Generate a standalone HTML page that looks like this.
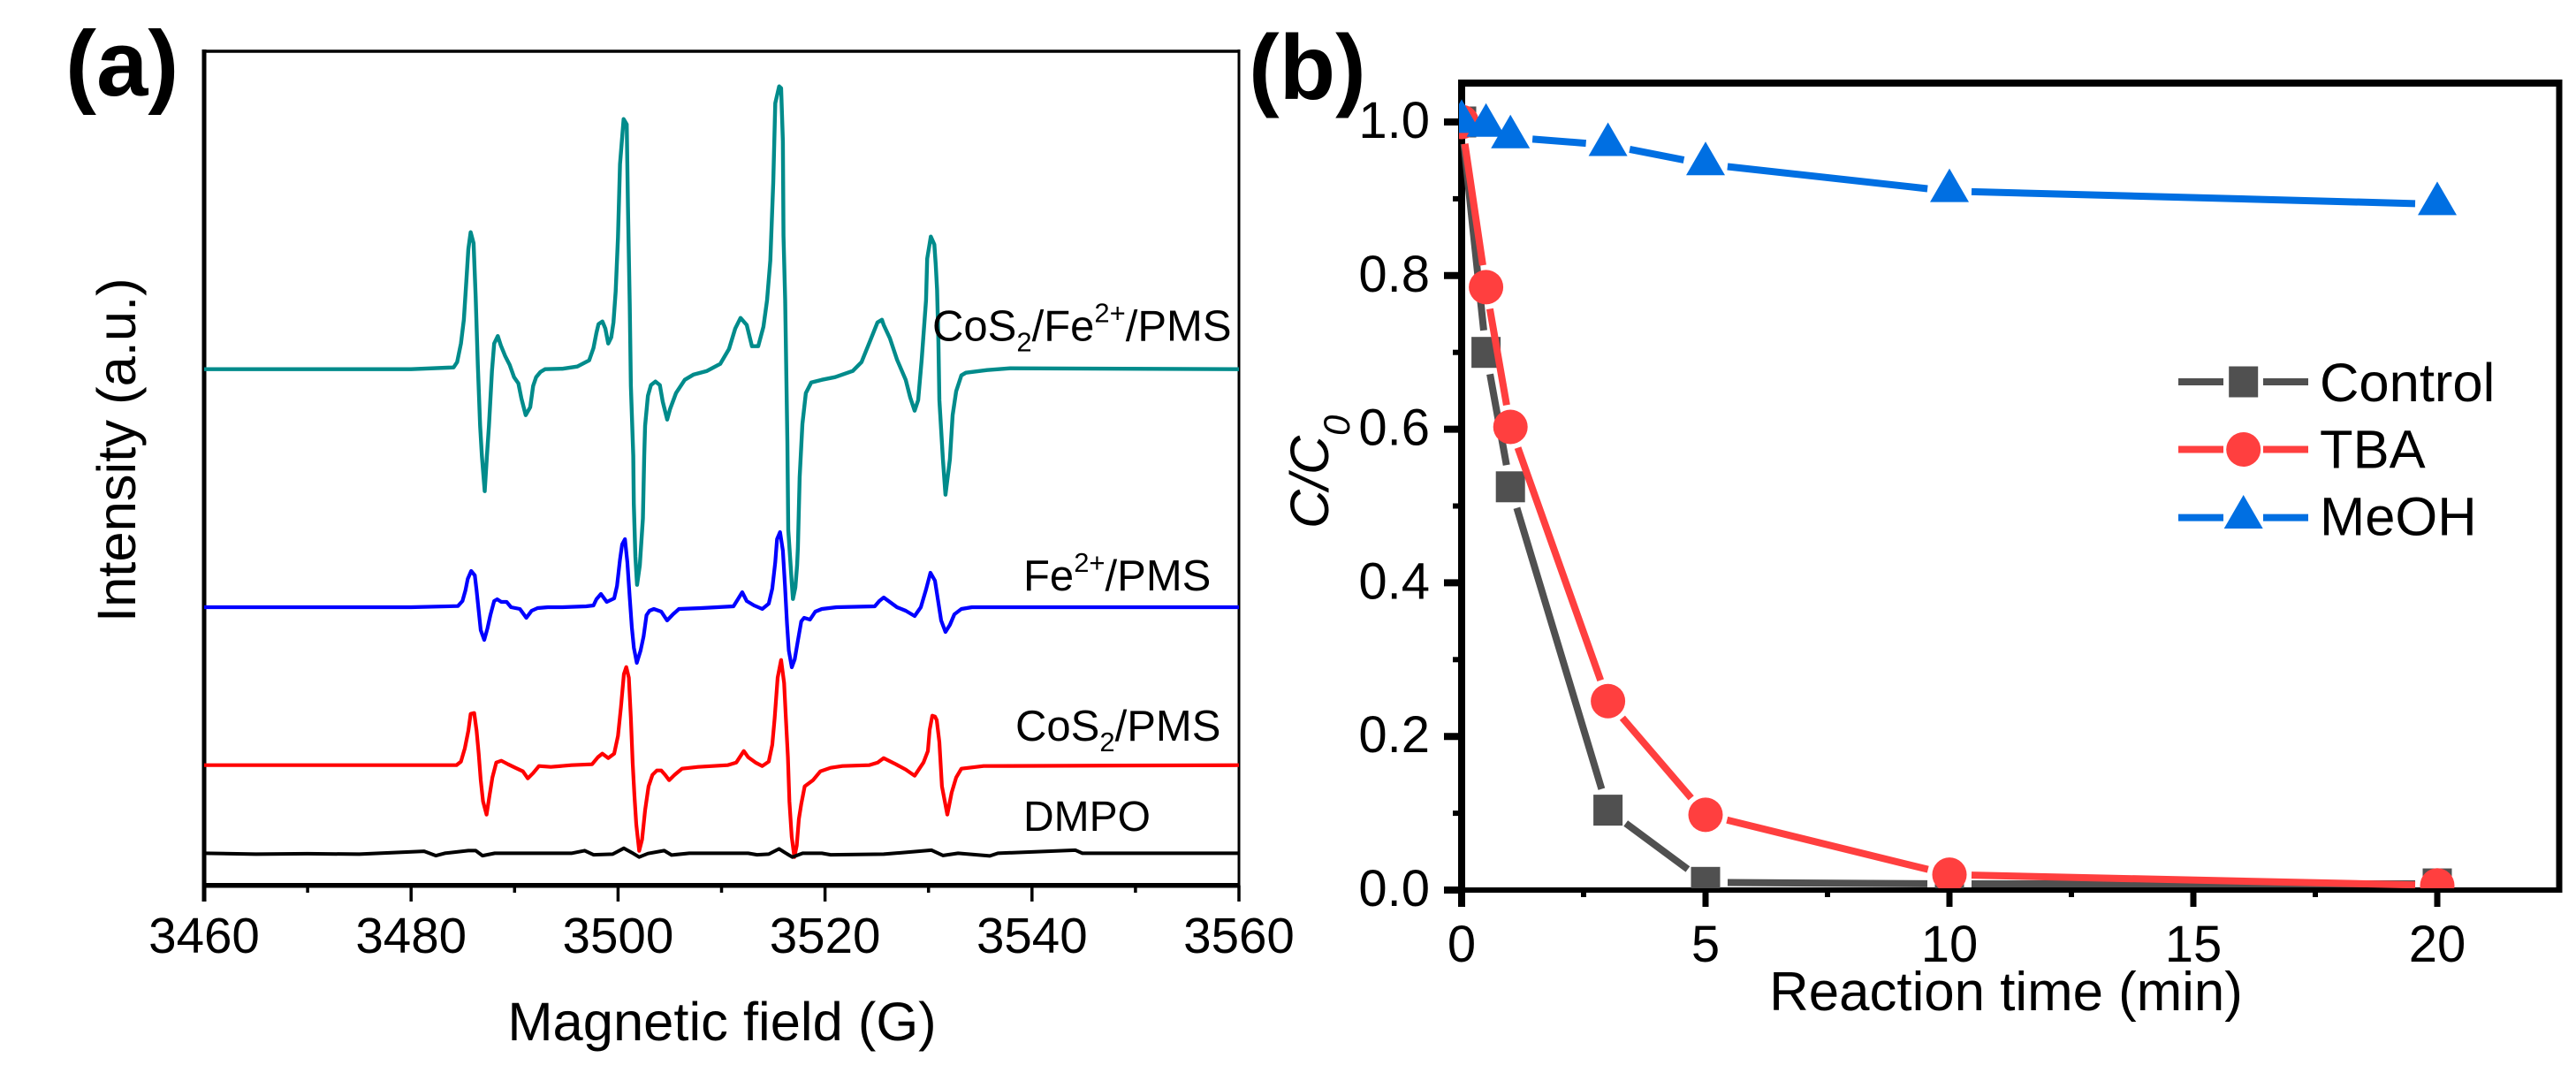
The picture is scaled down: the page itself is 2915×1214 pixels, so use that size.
<!DOCTYPE html>
<html lang="en">
<head>
<meta charset="utf-8">
<title>EPR spectra and C/C0 degradation curves</title>
<style>
html,body{margin:0;padding:0;background:#fff;}
svg{display:block;}
text{font-family:"Liberation Sans",Arial,sans-serif;fill:#000;}
</style>
</head>
<body>
<svg id="fig" xmlns="http://www.w3.org/2000/svg" width="2915" height="1214" viewBox="0 0 2915 1214">
  <rect x="0" y="0" width="2915" height="1214" fill="#fff"/>
  <defs>
    <clipPath id="plotClipB"><rect x="1651" y="90" width="1243" height="915"/></clipPath>
  </defs>

  <g id="panelA"></g>
  <g id="panelB"></g>

  <text x="74" y="108" font-size="105" font-weight="bold">(a)</text>
  <text x="1413" y="112" font-size="104" font-weight="bold">(b)</text>

  <text x="817" y="1177" font-size="61.5" text-anchor="middle">Magnetic field (G)</text>
  <text transform="translate(153,704) rotate(-90)" font-size="61.5">Intensity (a.u.)</text>
  <text x="2270" y="1143" font-size="61.8" text-anchor="middle">Reaction time (min)</text>
  <text transform="translate(1503,598) rotate(-90)" font-size="61" font-style="italic">C/C<tspan font-size="42" dy="24">0</tspan></text>

  <text x="1055" y="385.7" font-size="49">CoS<tspan font-size="31" dy="12">2</tspan><tspan dy="-12">/Fe</tspan><tspan font-size="31" dy="-21">2+</tspan><tspan dy="21">/PMS</tspan></text>
  <text x="1158" y="668" font-size="49">Fe<tspan font-size="31" dy="-21">2+</tspan><tspan dy="21">/PMS</tspan></text>
  <text x="1149" y="838" font-size="49">CoS<tspan font-size="31" dy="12">2</tspan><tspan dy="-12">/PMS</tspan></text>
  <text x="1158" y="940" font-size="48">DMPO</text>
</svg>

<script>
// ---------- Panel (a): EPR spectra, field in G, intensity in a.u. ----------
const fieldTicks = [3460, 3480, 3500, 3520, 3540, 3560];
const fieldMinorTicks = [3470, 3490, 3510, 3530, 3550];

const tealOffset = 584;
const blueOffset = 314.7;
const redOffset = 136;
const blackOffset = 36.3;

const tealField = [3460,3480,3484.11,3484.45,3484.82,3485.10,3485.34,3485.53,3485.76,3486.04,
3486.24,3486.45,3486.67,3486.84,3487.11,3487.33,3487.52,3487.81,3488.03,3488.38,
3488.67,3489.09,3489.52,3489.95,3490.37,3490.66,3491.08,3491.51,3491.79,3492.08,
3492.51,3492.94,3494.64,3496.06,3497.21,3497.63,3497.91,3498.11,3498.49,3498.77,
3499.05,3499.34,3499.56,3499.77,3499.99,3500.19,3500.54,3500.84,3500.96,3501.13,
3501.24,3501.47,3501.52,3501.67,3501.84,3502.10,3502.40,3502.53,3502.61,3502.89,
3503.18,3503.61,3504.04,3504.32,3504.75,3505.03,3505.60,3506.45,3507.31,3508.59,
3509.87,3510.73,3511.32,3511.84,3512.43,3512.94,3513.54,3514.05,3514.40,3514.71,
3515.00,3515.19,3515.57,3515.76,3515.93,3515.99,3516.15,3516.36,3516.45,3516.79,
3516.90,3517.13,3517.30,3517.38,3517.55,3517.81,3518.15,3518.67,3519.69,3520.97,
3522.68,3523.53,3524.39,3525.07,3525.50,3525.67,3526.27,3526.95,3527.80,3528.23,
3528.66,3529.00,3529.34,3529.76,3529.87,3530.22,3530.56,3530.70,3530.83,3530.96,
3531.05,3531.39,3531.64,3532.07,3532.33,3532.67,3533.18,3533.61,3535.66,3537.88,3560];
const tealIntensity = [0,0,2,8,29,56,99.5,136,155,142.5,
81,5,-64,-98,-138,-98,-64,-2,29,37.5,
27,15,5,-9,-16,-33,-52,-43,-19,-9,
-3,0,0.5,3,10,24,41,51,54,46,
29,36,53,88,149,232,283,277,184,74,
-19,-98,-152,-212,-244,-222,-169,-98,-64,-30,
-18,-14,-18,-37,-57,-45,-27,-12,-6,-2,
6,23,46,58,50,26,26,48,78,123,
211,301,320,318,258,151,78,-82,-182,-242,
-260,-247,-222,-202,-122,-62,-27,-15,-12,-9,
-2,8,33,53,56,50,35,11,-12,-32,
-47,-35,11,78,125,150,141,118,90,31,
-35,-102,-142,-102,-52,-25,-7,-4,-1,1,0];

const blueField = [3460,3480,3484.53,3484.96,3485.25,3485.47,3485.81,3486.16,3486.33,3486.53,
3486.73,3487.07,3487.38,3487.66,3488.03,3488.32,3488.72,3489.23,3489.66,3490.51,
3491.14,3491.65,3492.22,3493.22,3494.64,3496.92,3497.63,3497.91,3498.34,3498.91,
3499.62,3499.90,3500.19,3500.39,3500.67,3500.90,3501.13,3501.33,3501.53,3501.81,
3502.18,3502.47,3502.75,3503.04,3503.46,3504.18,3504.74,3505.31,3505.88,3508.02,
3511.15,3511.58,3512.00,3512.43,3513.14,3513.94,3514.56,3514.90,3515.19,3515.36,
3515.65,3515.93,3516.13,3516.33,3516.50,3516.79,3517.07,3517.36,3517.70,3517.98,
3518.55,3519.06,3519.69,3521.11,3524.81,3525.24,3525.67,3526.95,3527.80,3528.66,
3529.26,3529.76,3530.19,3530.62,3530.96,3531.22,3531.64,3532.07,3532.50,3533.18,
3534.20,3560];
const blueIntensity = [0,0,1.3,7,19,32,41,36,19,-4,
-26,-37,-24,-9,7,9,6,6,0,-2,
-12,-4,-1,0,0,1,2,9,15,6,
10,24,54,71,77,51,11,-23,-46,-63,
-49,-33,-9,-4,-2,-5,-15,-8,-2,-1,
1,9,17,7,2,-2,4,21,51,77,
85,64,24,-19,-49,-68,-59,-39,-16,-12,
-14,-5,-2,0,1,7,11,0,-4,-10,
0,20,39,30,5,-15,-28,-20,-8,-2,
0,0];

const redField = [3460,3480,3484.39,3484.82,3485.19,3485.53,3485.76,3486.10,3486.33,3486.53,
3486.73,3486.95,3487.29,3487.58,3487.86,3488.23,3488.72,3489.37,3490.08,3490.80,
3491.28,3491.79,3492.36,3493.50,3495.49,3497.49,3498.05,3498.48,3499.05,3499.62,
3499.99,3500.28,3500.56,3500.79,3501.04,3501.24,3501.41,3501.58,3501.76,3502.04,
3502.32,3502.61,3502.95,3503.32,3503.75,3504.18,3504.55,3504.94,3505.46,3506.17,
3507.73,3510.58,3511.43,3512.15,3512.57,3513.28,3513.94,3514.56,3514.90,3515.13,
3515.42,3515.76,3516.05,3516.22,3516.41,3516.56,3516.78,3517.04,3517.27,3517.47,
3517.70,3518.04,3518.84,3519.55,3520.54,3521.68,3524.25,3525.10,3525.67,3526.69,
3527.80,3528.66,3529.51,3529.94,3530.11,3530.37,3530.62,3530.79,3531.05,3531.30,
3531.82,3532.24,3532.67,3533.18,3535.32,3560];
const redIntensity = [0,0,0,4,19,39,58,59,39,13,
-17,-41,-56,-34,-14,3,5,1,-3,-7,
-15,-9,-1,-2,0,1,9,13,8,13,
33,66,103,111,99,53,3,-34,-67,-97,
-84,-51,-24,-11,-6,-6,-11,-17,-11,-4,
-2,0,3,16,9,3,-1,4,23,53,
99,119,93,53,9,-41,-81,-104,-91,-61,
-44,-24,-17,-7,-3,-1,0,3,8,2,
-5,-12,3,16,40,56,55,51,26,-24,
-56,-31,-14,-4,-1,0];

const blackField = [3460,3465,3470,3475,3481.26,3482.40,3483.25,3485.53,3486.24,3486.90,
3488.09,3495.49,3496.77,3497.63,3499.48,3500.56,3501.33,3502.04,3502.89,3504.46,
3505.17,3506.88,3512.57,3513.43,3514.56,3515.56,3516.13,3516.84,3517.84,3519.69,
3520.55,3525.67,3530.30,3531.41,3532.86,3535.93,3536.70,3544.20,3544.88,3560];
const blackIntensity = [0,-1,-0.5,-1,2.3,-2.7,0,3,3,-2.7,
0,0,3,-1.7,-1,5.7,0.7,-4.3,-0.3,3,
-2,0,0,-1.7,-1,5,0.7,-4.3,0,0,
-1.7,-1,3.5,-2.5,0,-3,0,3.5,0,0];

// ---------- Panel (b): degradation curves ----------
const timeValues = [0, 0.5, 1, 3, 5, 10, 20];
const controlValues = [1, 0.70, 0.525, 0.104, 0.01, 0.008, 0.008];
const tbaValues = [1, 0.785, 0.603, 0.246, 0.098, 0.02, 0.006];
const meohValues = [1, 0.995, 0.98, 0.97, 0.945, 0.91, 0.893];
const timeTicks = [0, 5, 10, 15, 20];
const timeMinorTicks = [2.5, 7.5, 12.5, 17.5];
const ratioTicks = ["0.0", "0.2", "0.4", "0.6", "0.8", "1.0"];
const ratioMinorTicks = [0.1, 0.3, 0.5, 0.7, 0.9];

// ---------- Axis functions ----------
function xA(g){ return 231 + (g - 3460) * (1402 - 231) / 100; }
function yA(v){ return 1001.7 - v; }
function xB(t){ return 1654 + t * 55.2; }
function yB(c){ return 1007 - c * 869; }

const NS = "http://www.w3.org/2000/svg";
const panelA = document.getElementById("panelA");
const panelB = document.getElementById("panelB");

function make(parent, tag, attrs){
  const el = document.createElementNS(NS, tag);
  for (const k in attrs) el.setAttribute(k, attrs[k]);
  parent.appendChild(el);
  return el;
}

// ---------- Draw panel (a) ----------
const leftA = make(panelA, "line", {x1: xA(3460), x2: xA(3460), y1: 56, y2: 1020, stroke: "#000", "stroke-width": 5});


const topA = make(panelA, "line", {x1: xA(3460), x2: xA(3560), y1: 58, y2: 58, stroke: "#000", "stroke-width": 3.5});


const rightA = make(panelA, "line", {x1: xA(3560), x2: xA(3560), y1: 56, y2: 1020, stroke: "#000", "stroke-width": 3});


const bottomA = make(panelA, "line", {x1: xA(3460), x2: xA(3560), y1: 1001.7, y2: 1001.7, stroke: "#000", "stroke-width": 5.5});



fieldTicks.forEach(function(g){
  const t = make(panelA, "line", {x1: xA(g), x2: xA(g), y1: 1001.7, y2: 1020, stroke: "#000", "stroke-width": 3.5});
  
  
  const l = make(panelA, "text", {x: xA(g), y: 1078, "font-size": 56.5, "text-anchor": "middle"});
  l.textContent = String(g);
  
  
});
fieldMinorTicks.forEach(function(g){
  const t = make(panelA, "line", {x1: xA(g), x2: xA(g), y1: 1001.7, y2: 1010, stroke: "#000", "stroke-width": 3.5});
  
  
});

function spectrum(fields, values, offset, color, width){
  let d = "";
  for (let i = 0; i < fields.length; i++){
    d += (i ? "L" : "M") + xA(fields[i]).toFixed(1) + " " + yA(values[i] + offset).toFixed(1);
  }
  return make(panelA, "path", {d: d, fill: "none", stroke: color, "stroke-width": width, "stroke-linejoin": "round"});
}
const tealLine = spectrum(tealField, tealIntensity, tealOffset, "#008B8B", 4.4);


const blueLine = spectrum(blueField, blueIntensity, blueOffset, "#0000FF", 4.2);


const redLine = spectrum(redField, redIntensity, redOffset, "#FF0000", 4.2);


const blackLine = spectrum(blackField, blackIntensity, blackOffset, "#000000", 4);



// ---------- Draw panel (b) ----------
const GRAY = "#505050", RED = "#FF3F3F", BLUE = "#006FE2";
const xEndB = xB(22.5);

const topB = make(panelB, "line", {x1: 1650, x2: xEndB + 3, y1: 94, y2: 94, stroke: "#000", "stroke-width": 8});


const rightB = make(panelB, "line", {x1: xEndB, x2: xEndB, y1: 90, y2: 1010, stroke: "#000", "stroke-width": 7});


const leftB = make(panelB, "line", {x1: xB(0), x2: xB(0), y1: 90, y2: 1026, stroke: "#000", "stroke-width": 8});


const bottomB = make(panelB, "line", {x1: 1634, x2: xEndB + 3, y1: 1007, y2: 1007, stroke: "#000", "stroke-width": 6});



timeTicks.forEach(function(t){
  const k = make(panelB, "line", {x1: xB(t), x2: xB(t), y1: 1007, y2: 1026, stroke: "#000", "stroke-width": 7});
  
  
  const l = make(panelB, "text", {x: xB(t), y: 1088, "font-size": 58, "text-anchor": "middle"});
  l.textContent = String(t);
  
  
});
timeMinorTicks.forEach(function(t){
  const k = make(panelB, "line", {x1: xB(t), x2: xB(t), y1: 1007, y2: 1015, stroke: "#000", "stroke-width": 6});
  
  
});
ratioTicks.forEach(function(s){
  const c = parseFloat(s);
  const k = make(panelB, "line", {x1: 1634, x2: 1654, y1: yB(c), y2: yB(c), stroke: "#000", "stroke-width": 8});
  
  
  const l = make(panelB, "text", {x: 1618, y: yB(c) + 18, "font-size": 58, "text-anchor": "end"});
  l.textContent = s;
  
  
});
ratioMinorTicks.forEach(function(c){
  const k = make(panelB, "line", {x1: 1644, x2: 1654, y1: yB(c), y2: yB(c), stroke: "#000", "stroke-width": 6});
  
  
});

function marker(parent, kind, x, y, color){
  if (kind === "square") return make(parent, "rect", {x: x - 16.5, y: y - 17.5, width: 33, height: 35, fill: color});
  if (kind === "circle") return make(parent, "circle", {cx: x, cy: y, r: 19.5, fill: color});
  return make(parent, "polygon", {
    points: x + "," + (y - 25.6) + " " + (x + 22) + "," + (y + 12.4) + " " + (x - 22) + "," + (y + 12.4),
    fill: color
  });
}

const plotGroup = make(panelB, "g", {"clip-path": "url(#plotClipB)"});



const GAP = 25;
function drawSeries(values, kind, color, seriesName){
  const g = make(plotGroup, "g", {});
  
  
  for (let i = 0; i < values.length - 1; i++){
    const x1 = xB(timeValues[i]), y1 = yB(values[i]);
    const x2 = xB(timeValues[i + 1]), y2 = yB(values[i + 1]);
    const len = Math.hypot(x2 - x1, y2 - y1);
    if (len <= GAP * 2) continue;
    const ux = (x2 - x1) / len, uy = (y2 - y1) / len;
    const seg = make(g, "line", {
      x1: x1 + ux * GAP, y1: y1 + uy * GAP,
      x2: x2 - ux * GAP, y2: y2 - uy * GAP,
      stroke: color, "stroke-width": 8
    });
    
    
  }
  values.forEach(function(v, i){
    const m = marker(g, kind, xB(timeValues[i]), yB(v), color);
    
    
  });
}
drawSeries(controlValues, "square", GRAY, "series-control");
drawSeries(tbaValues, "circle", RED, "series-tba");
drawSeries(meohValues, "triangle", BLUE, "series-meoh");

// ---------- Legend ----------
const legendNames = ["Control", "TBA", "MeOH"];
const legendKinds = ["square", "circle", "triangle"];
const legendColors = [GRAY, RED, BLUE];
const legend = make(panelB, "g", {});


legendNames.forEach(function(name, i){
  const cy = [432, 508.5, 585.6][i];
  const baseline = [454, 529.5, 605.6][i];
  const c = legendColors[i];
  const entry = make(legend, "g", {});
  
  
  const l1 = make(entry, "line", {x1: 2465, x2: 2516, y1: cy, y2: cy, stroke: c, "stroke-width": 8});
  
  
  const l2 = make(entry, "line", {x1: 2561, x2: 2612, y1: cy, y2: cy, stroke: c, "stroke-width": 8});
  
  
  const m = marker(entry, legendKinds[i], 2538.7, cy, c);
  
  
  const t = make(entry, "text", {x: 2625, y: baseline, "font-size": 61.5});
  t.textContent = name;
  
  
});
</script>
</body>
</html>
